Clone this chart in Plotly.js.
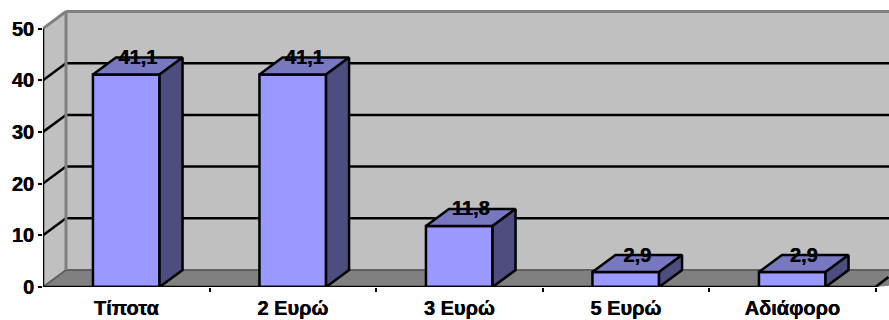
<!DOCTYPE html>
<html>
<head>
<meta charset="utf-8">
<script src="https://cdn.plot.ly/plotly-3.0.1.min.js"></script>
<style>html,body{margin:0;padding:0;background:#fff}#chart{width:889px;height:320px}</style>
</head>
<body>
<div id="chart"></div>
<script>
// Survey answers and their percentages
const categories = ['Τίποτα', '2 Ευρώ', '3 Ευρώ', '5 Ευρώ', 'Αδιάφορο'];
const values = [41.1, 41.1, 11.8, 2.9, 2.9];
const yTicks = [0, 10, 20, 30, 40, 50];

// Scales in pixels per unit, and the oblique depth of the 3D look in data units
const pxPerCat = 166.5, pxPerVal = 5.17;
const depthX = 23 / pxPerCat, depthY = 17 / pxPerVal;
const barHalf = 0.2;
const left = -0.5, right = 4.5;
const plotW = 846, plotH = 287;
const xMax = left + plotW / pxPerCat;
const yMax = plotH / pxPerVal;

const FONT = 'Liberation Sans, Arial, sans-serif';
const HEAVY = '0.4px 0 0 #000';
const wall = '#c0c0c0', floorCol = '#808080', edge = '#808080';
const front = '#9999ff', topCol = '#7878c0', sideCol = '#4d4d80';

function poly(xs, ys, fill, lineCol, lineW) {
  return {
    type: 'path', xref: 'x', yref: 'y', layer: 'below',
    path: xs.map((x, i) => (i ? 'L' : 'M') + x + ',' + ys[i]).join(' ') + ' Z',
    fillcolor: fill, line: {color: lineCol, width: lineW}
  };
}
function seg(x0, y0, x1, y1, color, width) {
  return {type: 'line', xref: 'x', yref: 'y', layer: 'below', x0, y0, x1, y1, line: {color, width}};
}

// Walls and floor of the box
const shapes = [
  poly([left, left + depthX, left + depthX, left], [0, depthY, 50 + depthY, 50], wall, wall, 0),
  poly([left + depthX, xMax + 1, xMax + 1, left + depthX], [depthY, depthY, 50 + depthY, 50 + depthY], wall, wall, 0),
  poly([left, left + depthX, xMax + 1, right], [0, depthY, depthY, 0], floorCol, floorCol, 0)
];
yTicks.slice(1, 5).forEach(v => {
  shapes.push(seg(left, v, left + depthX, v + depthY, '#000', 2.5));
  shapes.push(seg(left + depthX, v + depthY, xMax + 1, v + depthY, '#000', 2.5));
});
shapes.push(seg(left, 0, left + depthX, depthY, '#606060', 2));
shapes.push(seg(left + depthX, depthY, xMax + 1, depthY, '#606060', 2));
shapes.push(seg(left + depthX, depthY, left + depthX, 50 + depthY, edge, 3));
shapes.push(seg(left, 50, left + depthX, 50 + depthY, edge, 3));
shapes.push(seg(left + depthX, 50 + depthY, xMax + 1, 50 + depthY, edge, 3));

const traces = [];
const outline = {color: '#000', width: 2.5};

// Front faces
traces.push({
  type: 'bar', x: categories.map((_, i) => i), y: values, width: barHalf * 2,
  marker: {color: front, line: outline}, hoverinfo: 'skip', showlegend: false
});

// Top and side faces derived from each value
values.forEach((v, i) => {
  const a = i - barHalf, b = i + barHalf;
  traces.push({
    type: 'scatter', mode: 'lines', fill: 'toself', fillcolor: topCol, line: outline,
    x: [a, a + depthX, b + depthX, b, a], y: [v, v + depthY, v + depthY, v, v],
    cliponaxis: false, hoverinfo: 'skip', showlegend: false
  });
  traces.push({
    type: 'scatter', mode: 'lines', fill: 'toself', fillcolor: sideCol, line: outline,
    x: [b, b + depthX, b + depthX, b, b], y: [0, depthY, v + depthY, v, 0],
    cliponaxis: false, hoverinfo: 'skip', showlegend: false
  });
});

// Axis lines stop at the box, so they are drawn as lines of their own
traces.push({
  type: 'scatter', mode: 'lines', line: {color: '#000', width: 2.5},
  x: [left, left, right, right + 13 / pxPerCat], y: [50, 0, 0, 10 / pxPerVal],
  cliponaxis: false, hoverinfo: 'skip', showlegend: false
});

// Value labels sit on the back edge of each top face
const labelDropPx = 1.5;
traces.push({
  type: 'scatter', mode: 'text', xaxis: 'x2', yaxis: 'y',
  x: values.map((_, i) => i + depthX / 2),
  y: values.map(v => v + depthY - labelDropPx / pxPerVal),
  text: values.map(v => v.toFixed(1).replace('.', ',')),
  textposition: 'middle center',
  textfont: {family: FONT, size: 20, color: '#000', weight: 700, shadow: HEAVY},
  cliponaxis: false, hoverinfo: 'skip', showlegend: false
});

const layout = {
  width: 889, height: 320,
  margin: {l: 43, r: 0, t: 0, b: 33, pad: 0},
  paper_bgcolor: '#fff', plot_bgcolor: 'rgba(0,0,0,0)',
  showlegend: false, barmode: 'overlay',
  shapes,
  xaxis: {
    range: [left, xMax], showgrid: false, zeroline: false, showline: false,
    tickmode: 'array', tickvals: [0.5, 1.5, 2.5, 3.5, 4.5], ticktext: ['', '', '', '', ''],
    ticks: 'outside', ticklen: 4, tickwidth: 2, tickcolor: '#000'
  },
  xaxis2: {
    overlaying: 'x', side: 'bottom', anchor: 'y',
    range: [left, xMax], showgrid: false, zeroline: false, showline: false,
    tickmode: 'array', tickvals: categories.map((_, i) => i), ticktext: categories,
    ticks: '', ticklabelstandoff: 7,
    tickfont: {family: FONT, size: 20, color: '#000', weight: 700, shadow: HEAVY}
  },
  yaxis: {
    range: [0, yMax], showgrid: false, zeroline: false, showline: false,
    tickmode: 'array', tickvals: yTicks, ticktext: yTicks.map(String),
    ticks: 'outside', ticklen: 4, tickwidth: 2, tickcolor: '#000', ticklabelstandoff: 0,
    tickfont: {family: FONT, size: 20, color: '#000', weight: 700, shadow: HEAVY}
  }
};

Plotly.newPlot('chart', traces, layout, {displayModeBar: false, staticPlot: true});
</script>
</body>
</html>
